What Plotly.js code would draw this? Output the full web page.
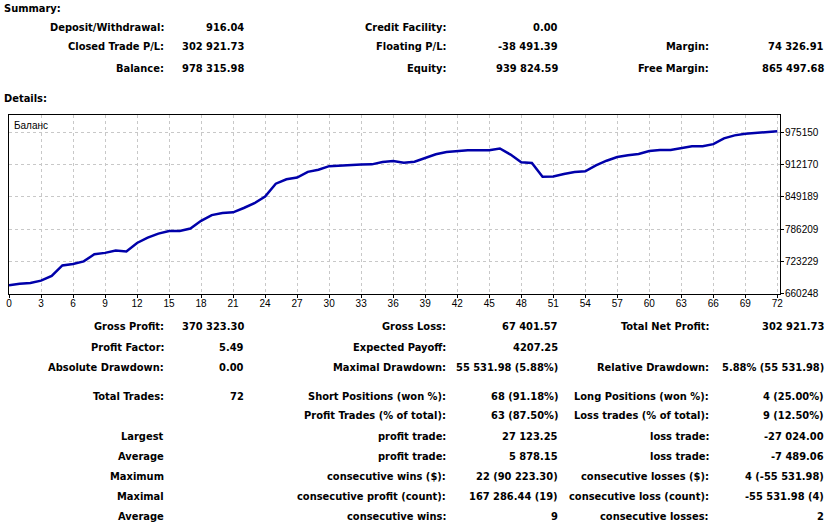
<!DOCTYPE html>
<html>
<head>
<meta charset="utf-8">
<script src="https://cdn.plot.ly/plotly-3.0.1.min.js"></script>
<style>
  html, body { margin: 0; padding: 0; background: #fff; }
  #chart { width: 829px; height: 525px; }
</style>
</head>
<body>
<div id="chart"></div>
<script>
// ---- Balance curve data (trade number vs balance) ----
const trades = [0,1,2,3,4,5,6,7,8,9,10,11,12,13,14,15,16,17,18,19,20,21,22,23,24,25,26,27,28,29,30,31,32,33,34,35,36,37,38,39,40,41,42,43,44,45,46,47,48,49,50,51,52,53,54,55,56,57,58,59,60,61,62,63,64,65,66,67,68,69,70,71,72];
const balance = [675394,678760,680150,684730,694090,714600,717390,722570,736510,739300,
  743880,741890,758810,769170,777130,782320,782500,787090,802230,813580,
  817560,818960,827520,836880,850020,875320,883880,887270,898620,902600,
  909770,911170,911400,913150,913300,917740,919720,916540,918530,925100,
  933070,937650,939640,941040,941100,941200,944400,932500,917500,915900,
  888868,889500,894170,898150,899750,911100,920470,927640,931030,933610,
  939590,941580,941700,945570,948950,949050,952940,964300,970280,973460,
  974860,976250,978316];
const yTickVals = [660248, 723229, 786209, 849189, 912170, 975150];
const xTickVals = [0,3,6,9,12,15,18,21,24,27,30,33,36,39,42,45,48,51,54,57,60,63,66,69,72];
const seriesName = "Баланс";

// ---- Summary table ----
const summaryLabels1 = ["Deposit/Withdrawal:", "Closed Trade P/L:", "Balance:"];
const summaryValues1 = ["916.04", "302 921.73", "978 315.98"];
const summaryLabels2 = ["Credit Facility:", "Floating P/L:", "Equity:"];
const summaryValues2 = ["0.00", "-38 491.39", "939 824.59"];
const summaryLabels3 = ["", "Margin:", "Free Margin:"];
const summaryValues3 = ["", "74 326.91", "865 497.68"];

// ---- Details table ----
const detailLabels1 = ["Gross Profit:", "Profit Factor:", "Absolute Drawdown:", "Total Trades:", "", "Largest", "Average", "Maximum", "Maximal", "Average"];
const detailValues1 = ["370 323.30", "5.49", "0.00", "72", "", "", "", "", "", ""];
const detailLabels2 = ["Gross Loss:", "Expected Payoff:", "Maximal Drawdown:", "Short Positions (won %):", "Profit Trades (% of total):", "profit trade:", "profit trade:", "consecutive wins ($):", "consecutive profit (count):", "consecutive wins:"];
const detailValues2 = ["67 401.57", "4207.25", "55 531.98 (5.88%)", "68 (91.18%)", "63 (87.50%)", "27 123.25", "5 878.15", "22 (90 223.30)", "167 286.44 (19)", "9"];
const detailLabels3 = ["Total Net Profit:", "", "Relative Drawdown:", "Long Positions (won %):", "Loss trades (% of total):", "loss trade:", "loss trade:", "consecutive losses ($):", "consecutive loss (count):", "consecutive losses:"];
const detailValues3 = ["302 921.73", "", "5.88% (55 531.98)", "4 (25.00%)", "9 (12.50%)", "-27 024.00", "-7 489.06", "4 (-55 531.98)", "-55 531.98 (4)", "2"];

// ---- layout geometry (pixels) ----
const W = 829, H = 525;
const plotL = 9, plotR = 780, plotT = 115, plotB = 294;
const pw = plotR - plotL, ph = plotB - plotT;
const px = x => (x - plotL) / pw;
const py = y => (plotB - y) / ph;

const FONT = "DejaVu Sans Condensed, DejaVu Sans, sans-serif";
const TICKFONT = "Liberation Sans, Arial, sans-serif";
const annotations = [];
function addText(text, x, y, anchor, bold, size, fam) {
  if (!text) return;
  annotations.push({
    text: bold ? "<b>" + text + "</b>" : text,
    xref: "paper", yref: "paper",
    x: px(x), y: py(y),
    xanchor: anchor, yanchor: "middle",
    showarrow: false,
    font: { family: fam || FONT, size: size || 11, color: "#000" }
  });
}

addText("Summary:", 2, 8, "left", true);
addText("Details:", 2, 98, "left", true);

const sumRows = [27, 47, 68];
sumRows.forEach((y, i) => {
  addText(summaryLabels1[i], 166, y, "right", true);
  addText(summaryValues1[i], 246, y, "right", true);
  addText(summaryLabels2[i], 448, y, "right", true);
  addText(summaryValues2[i], 560, y, "right", true);
  addText(summaryLabels3[i], 711, y, "right", true);
  addText(summaryValues3[i], 826, y, "right", true);
});

const detRows = [326, 347, 367, 396, 416, 436, 456, 476, 496, 516];
detRows.forEach((y, i) => {
  addText(detailLabels1[i], 166, y, "right", true);
  addText(detailValues1[i], 246, y, "right", true);
  addText(detailLabels2[i], 448, y, "right", true);
  addText(detailValues2[i], 560, y, "right", true);
  addText(detailLabels3[i], 711, y, "right", true);
  addText(detailValues3[i], 826, y, "right", true);
});

addText(seriesName, 12, 125, "left", false, 10, TICKFONT);

const trace = {
  x: trades, y: balance,
  type: "scatter", mode: "lines",
  line: { color: "#0000AA", width: 2.5 },
  hoverinfo: "skip",
  name: seriesName
};

const axisCommon = {
  ticks: "outside", ticklen: 3, tickcolor: "#000",
  showgrid: true, gridcolor: "#c8c8c8", griddash: "3px,3px", gridwidth: 1,
  zeroline: false,
  showline: true, linecolor: "#000", linewidth: 1, mirror: true,
  tickfont: { family: TICKFONT, size: 10, color: "#000" }
};

const layout = {
  width: W, height: H,
  margin: { l: plotL, r: W - plotR, t: plotT, b: H - plotB, pad: 0 },
  paper_bgcolor: "#fff", plot_bgcolor: "#fff",
  showlegend: false,
  font: { family: TICKFONT, size: 10, color: "#000" },
  xaxis: Object.assign({}, axisCommon, {
    range: [0, 72.25],
    tickvals: xTickVals,
    ticktext: xTickVals.map(String),
    ticklabelstandoff: -3
  }),
  yaxis: Object.assign({}, axisCommon, {
    range: [658480, 1010300],
    side: "right",
    tickvals: yTickVals,
    ticktext: yTickVals.map(String),
    ticklabelstandoff: -1
  }),
  annotations: annotations
};

Plotly.newPlot("chart", [trace], layout, { staticPlot: true, displayModeBar: false });
</script>
</body>
</html>
